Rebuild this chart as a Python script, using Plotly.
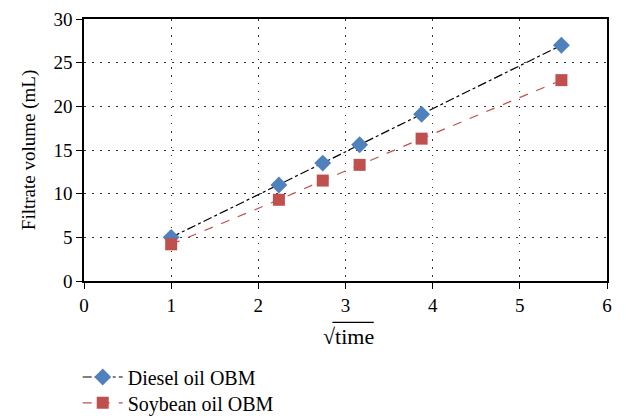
import plotly.graph_objects as go

sqrt_time = [1.0, 2.236, 2.739, 3.162, 3.873, 5.477]
diesel = [5.0, 11.0, 13.5, 15.6, 19.1, 27.0]
soybean = [4.2, 9.3, 11.5, 13.3, 16.3, 23.0]
x_ticks = [0, 1, 2, 3, 4, 5, 6]
y_ticks = [0, 5, 10, 15, 20, 25, 30]

FONT = "Liberation Serif"

fig = go.Figure()
fig.add_trace(go.Scatter(
    x=sqrt_time, y=diesel, mode="lines+markers", name="Diesel oil OBM",
    line=dict(color="black", dash="dashdot", width=1.2),
    marker=dict(symbol="diamond", size=13, color="#4F81BD"),
    legend="legend",
))
fig.add_trace(go.Scatter(
    x=sqrt_time, y=soybean, mode="lines+markers", name="Soybean oil OBM",
    line=dict(color="#C0504D", dash="dash", width=1.2),
    marker=dict(symbol="square", size=12, color="#C0504D"),
    legend="legend2",
))

axis_common = dict(
    showline=True, linecolor="black", linewidth=1.5, mirror=True,
    ticks="outside", ticklen=6, tickcolor="black",
    showgrid=True, gridcolor="#333", griddash="1.5px,6.5px", gridwidth=1.2,
    zeroline=False, automargin=False,
    tickfont=dict(family=FONT, size=19, color="black"),
)

fig.update_xaxes(range=[0, 6], tickvals=x_ticks, **axis_common)
fig.update_yaxes(range=[0, 30], tickvals=y_ticks,
                 title=dict(text="Filtrate volume (mL)", font=dict(family=FONT, size=19, color="black"), standoff=13),
                 **axis_common)

# x-axis title: square root of time, with an overline over "time"
fig.add_annotation(text="\u221Atime", xref="paper", yref="paper", x=0.505, y=-0.156,
                   xanchor="center", yanchor="top", showarrow=False,
                   font=dict(family=FONT, size=22, color="black"))
fig.add_shape(type="line", xref="paper", yref="paper", x0=0.475, x1=0.554, y0=-0.158, y1=-0.158,
              line=dict(color="black", width=1.3))

leg_common = dict(xanchor="left", yanchor="middle", yref="container",
                  font=dict(family=FONT, size=20, color="black"),
                  itemwidth=40, bgcolor="rgba(0,0,0,0)")

fig.update_layout(
    width=618, height=410,
    margin=dict(l=76, r=19, t=11, b=137),
    plot_bgcolor="white", paper_bgcolor="white",
    showlegend=True,
    legend=dict(x=-0.012, y=0.100, **leg_common),
    legend2=dict(x=-0.012, y=0.037, **leg_common),
)

fig.write_html("out.html")
